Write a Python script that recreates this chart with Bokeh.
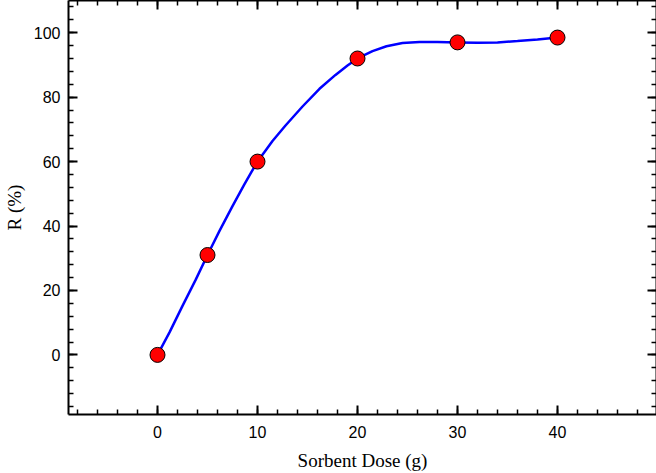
from bokeh.plotting import figure
from bokeh.models import LinearAxis, SingleIntervalTicker, Range1d
from bokeh.embed import file_html
from bokeh.resources import INLINE

# Measured data points
dose = [0, 5, 10, 20, 30, 40]
removal = [0, 31, 60, 92, 97, 98.5]

# Smooth fitted curve
curve_x = [0, 1.2, 2.5, 3.8, 5, 6.2, 7.5, 8.7, 9.4, 10, 10.7, 11.5, 12.8, 14.5, 16.2, 17.8,
           19, 20, 21.5, 22.9, 24.5, 26.2, 28, 30, 32, 34, 36, 38, 40]
curve_y = [0, 7.0, 15.2, 23.2, 31, 38.5, 46.2, 53.0, 56.8, 60, 63.0, 66.4, 71.2, 77.1, 82.6, 86.9,
           89.8, 92, 94.3, 95.8, 96.8, 97.1, 97.1, 97.0, 96.9, 97.0, 97.4, 97.9, 98.5]

x_title = "Sorbent Dose (g)"
y_title = "R (%)"

p = figure(width=656, height=473, output_backend="svg", toolbar_location=None,
           x_range=Range1d(-8.9, 49.9), y_range=Range1d(-18.5, 110),
           x_axis_type=None, y_axis_type=None,
           min_border_left=0, min_border_right=0, min_border_top=0, min_border_bottom=0)
p.grid.visible = False
p.outline_line_color = None
p.background_fill_color = "white"
p.border_fill_color = "white"

def style(ax, show_labels, title=None, standoff=8, title_standoff=6):
    ax.axis_line_width = 2
    ax.axis_line_color = "black"
    ax.major_tick_in = 9
    ax.major_tick_out = 0
    ax.minor_tick_in = 5
    ax.minor_tick_out = 0
    ax.major_tick_line_width = 2
    ax.minor_tick_line_width = 1.5
    ax.major_tick_line_color = "black"
    ax.minor_tick_line_color = "black"
    if show_labels:
        ax.major_label_text_font = "Liberation Sans"
        ax.major_label_text_font_size = "16px"
        ax.major_label_text_color = "black"
        ax.major_label_standoff = standoff
    else:
        ax.major_label_text_font_size = "0px"
        ax.major_label_text_color = None
        ax.major_label_standoff = 0
    if title:
        ax.axis_label = title
        ax.axis_label_text_font = "Liberation Serif"
        ax.axis_label_text_font_size = "19px"
        ax.axis_label_text_font_style = "normal"
        ax.axis_label_text_color = "black"
        ax.axis_label_standoff = title_standoff

xb = LinearAxis(ticker=SingleIntervalTicker(interval=10, num_minor_ticks=5))
style(xb, True, x_title, standoff=11, title_standoff=9)
p.add_layout(xb, "below")
xt = LinearAxis(ticker=SingleIntervalTicker(interval=10, num_minor_ticks=5))
style(xt, False)
p.add_layout(xt, "above")
yl = LinearAxis(ticker=SingleIntervalTicker(interval=20, num_minor_ticks=5))
style(yl, True, y_title, standoff=8, title_standoff=6)
p.add_layout(yl, "left")
yr = LinearAxis(ticker=SingleIntervalTicker(interval=20, num_minor_ticks=5))
style(yr, False)
p.add_layout(yr, "right")

p.line(curve_x, curve_y, line_color="#0000ff", line_width=2.5)
p.scatter(dose, removal, size=15, fill_color="#ff0000", line_color="black", line_width=1)

open("out.html", "w").write(file_html(p, INLINE))
